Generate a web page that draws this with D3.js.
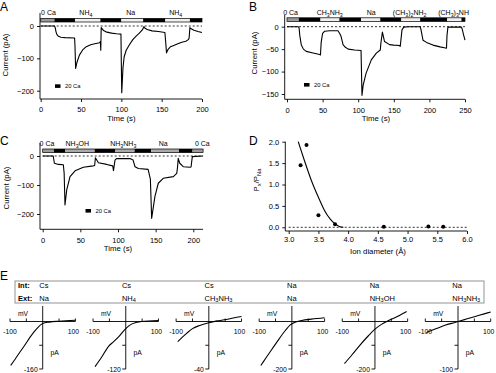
<!DOCTYPE html>
<html lang="en">
<head>
<meta charset="UTF-8">
<title>Permeation of organic cations</title>
<script src="https://d3js.org/d3.v7.min.js"></script>
<style>
  body { margin: 0; background: #fff; }
  svg { font-family: "Liberation Sans", Arial, Helvetica, sans-serif; }
  text { fill: #000; }
  .trace { fill: none; stroke: #000; stroke-width: 1.1; stroke-linejoin: round; }
  .zero { stroke: #000; stroke-width: 0.8; stroke-dasharray: 2,2; }
  .ax { stroke: #000; stroke-width: 0.9; }
</style>
</head>
<body>
<svg id="fig" width="496" height="373"></svg>
<script>
// ---- panel A : NH4 / Na ----
let timeA = [0,17,18,19,20,22,25,30,42,42.5,43.3,45,48,52,56.5,62,67,73,74,74.5,75,76,78,82,88,94,99.5,100,100.5,102,103.5,106,110,114,118,122,126,128,129,132,138,146,154,155,156,158,161,165,170,175,180,183,184,185,186,190,195,200];
let currentA = [0,0,-5,-18,-26,-32,-35,-36,-37,-60,-131,-112,-90,-74,-64,-58,-55,-52,-48,-75,-5,-8,-14,-19,-22,-24,-25,-120,-206,-130,-95,-75,-58,-43,-32,-23,-12,-2,-6,-11,-15,-17,-20,-50,-83,-72,-64,-60,-55,-50,-47,-42,-38,-5,-8,-13,-17,-20];
let barEdgesA = [0,17,42.5,74,100,127,154.5,185,200];
let barKindsA = ["zero","ca","ion","ca","ion","ca","ion","ca"];
let barLabelsA = ["0 Ca","NH4","Na","NH4"];
let barLabelTimesA = [9.7,56,111.6,167.4];

// ---- panel B : methylated ammonium ----
let timeB = [0,16,17,18,20,23,27,35,46,47,48,50,53,60,71.6,74,76,78.7,82,86,95,104,104.6,105.3,107,111,118.4,125.5,131,132,134,137,144,150,158,159,160,161.5,164,170,187,188,191,196,205,215,221,224,224.7,226,245,246,248,250];
let currentB = [0,0,-3,-20,-40,-50,-55,-58,-62,-63,-35,-15,-10,-9,-9,-15,-22,-40,-46,-50,-52,-53,-100,-153,-130,-104,-74,-59,-52,-35,-12,-33,-40,-41,-42,-44,-30,-7,-1,0,0,-5,-30,-35,-41,-45,-47,-48,-20,-1,-1,-5,-18,-30];
let barEdgesB = [0,16.5,47,73.6,104,131,160.6,187,225,245,250];
let barKindsB = ["zero","ca","ion","ca","ion","ca","ion","ca","ion","ca"];
let barLabelsB = ["0 Ca","CH3NH3","Na","(CH3)2NH2","(CH3)3NH"];
let barLabelTimesB = [5,60,118.4,172.3,234];

// ---- panel C : hydroxylamine / hydrazine ----
let timeC = [0,14,15.5,21,27.4,28.5,29.6,31.9,36.3,43,54,67,69,70,74,85,93,94,96,98,116,120,122.6,127,140,143,144.7,149,153.5,160,173.5,178,179,180,182,186.7,195.6,197,198.7,213];
let currentC = [0,0,-25,-29,-30,-60,-169,-117,-71,-51,-39,-34,-33,-6,-23,-29,-34,-51,-14,-9,-9,-14,-37,-43,-46,-80,-215,-140,-94,-77,-71,-60,-40,-8,-25,-37,-39,-38,-2,0];
let barEdgesC = [0,15,29.6,69,96,122,144,181,199,213];
let barKindsC = ["zero","ca","ion","ca","ion","ca","ion","ca","zero"];
let barLabelsC = ["0 Ca","NH3OH","NH3NH3","Na","0 Ca"];
let barLabelTimesC = [5.7,46,107,160,212];

// ---- panel D : relative permeability vs diameter ----
let diameters = [3.2,3.3,3.5,3.78,4.6,5.35,5.6];
let permRatios = [1.45,1.92,0.28,0.07,0.01,0.02,0.01];
let fitDiameters = [3.16,3.25,3.38,3.5,3.6,3.7,3.77,3.85,3.92];
let fitRatios = [2.0,1.62,1.10,0.70,0.40,0.19,0.09,0.02,0.0];

// ---- panel E : I-V relations ----
let ivIntIons = ["Cs","Cs","Cs","Na","Na","Na"];
let ivExtIons = ["Na","NH4","CH3NH3","Na","NH3OH","NH3NH3"];
let ivLowTicks = [-160,-120,-40,-200,-200,-100];
let ivVolts = [
  [-98,-85,-69,-55,-38,-18,0,20,50,100],
  [-94,-73,-52,-37,-22,0,19,48,100],
  [-95,-68,-50,-28,0,25,53,75,100],
  [-95,-80,-60,-40,-20,-5,10,30,60,100],
  [-93,-70,-45,-20,0,20,40,70,97],
  [-97,-70,-40,-10,0,20,50,80,100]
];
let ivCurrents = [
  [-148,-128,-102,-80,-52,-24,-7,-2,1,4],
  [-114,-89,-62,-51,-39,-18,-6,0,2.5],
  [-17,-10,-6,-3.3,-1,0.5,1.7,3,4.2],
  [-185,-155,-115,-75,-38,-14,-3,4,10,16],
  [-177,-140,-98,-60,-32,-12,3,22,42],
  [-23,-16,-8,-2,0,4,10,16,20]
];

const svg = d3.select("#fig");

// digits following a letter or ")" become subscripts
function chem(t, str) {
  let runs = [];
  for (let i = 0; i < str.length; i++) {
    let c = str[i];
    let sub = /\d/.test(c) && i > 0 && /[A-Za-z)]/.test(str[i - 1]);
    if (runs.length && runs[runs.length - 1].sub === sub) runs[runs.length - 1].t += c;
    else runs.push({t: c, sub: sub});
  }
  let down = false;
  runs.forEach(r => {
    let ts = t.append("tspan").text(r.t);
    if (r.sub) { ts.attr("dy", 1.8).attr("font-size", "0.75em"); down = true; }
    else if (down) { ts.attr("dy", -1.8); down = false; }
  });
  return t;
}

function line(g, x1, y1, x2, y2, cls) {
  return g.append("line").attr("x1", x1).attr("y1", y1).attr("x2", x2).attr("y2", y2).attr("class", cls || "ax");
}

function styleAxis(a) {
  a.attr("font-size", 7.5).attr("font-family", null);
  a.select(".domain").remove();
  a.selectAll(".tick line").attr("stroke-width", 0.9);
}

function letter(ch, x, y) {
  svg.append("text").attr("x", x).attr("y", y).attr("font-size", 12).text(ch);
}

function tracePanel(p) {
  const g = svg.append("g");
  const x = d3.scaleLinear().domain([0, p.tMax]).range([p.left, p.right]);
  const y = d3.scaleLinear().domain([0, p.iLow]).range([p.zeroY, p.lowY]);

  g.append("g").attr("transform", `translate(0,${p.axisY})`)
    .call(d3.axisBottom(x).tickValues(p.xTicks).tickSize(3).tickSizeOuter(0).tickPadding(p.xPad))
    .call(styleAxis);
  g.append("g").attr("transform", `translate(${p.axisX},0)`)
    .call(d3.axisLeft(y).tickValues(p.yTicks).tickSize(3).tickSizeOuter(0).tickPadding(3))
    .call(styleAxis);
  line(g, p.axisX, p.axisY, x(p.tAxisEnd), p.axisY);
  line(g, p.axisX, p.axisTop, p.axisX, p.axisY);

  g.append("text").attr("x", (x(0) + x(p.tMax)) / 2).attr("y", p.axisY + 22)
    .attr("text-anchor", "middle").attr("font-size", 7.8).text("Time (s)");
  g.append("text").attr("transform", `translate(${p.yLabelX},${p.yLabelY}) rotate(-90)`)
    .attr("text-anchor", "middle").attr("font-size", 7.8).text("Current (pA)");

  line(g, x(0), y(0), x(p.tAxisEnd), y(0), "zero");

  // solution bar
  const fills = {zero: "#9a9a9a", ca: "#000", ion: p.ionFill};
  p.edges.slice(0, -1).forEach((t0, i) => {
    g.append("rect").attr("x", x(t0)).attr("y", p.barY)
      .attr("width", x(p.edges[i + 1]) - x(t0)).attr("height", 3.6)
      .attr("fill", fills[p.kinds[i]]);
  });
  g.append("rect").attr("x", x(p.edges[0])).attr("y", p.barY)
    .attr("width", x(p.edges[p.edges.length - 1]) - x(p.edges[0])).attr("height", 3.6)
    .attr("fill", "none").attr("stroke", "#000").attr("stroke-width", 0.7);
  p.labels.forEach((lab, i) => {
    chem(g.append("text").attr("x", x(p.labelTimes[i])).attr("y", p.barY - 3)
      .attr("text-anchor", "middle").attr("font-size", 7), lab);
  });

  // 20 Ca key
  g.append("rect").attr("x", p.keyX).attr("y", p.keyY).attr("width", 5.5).attr("height", 3.6).attr("fill", "#000");
  g.append("text").attr("x", p.keyX + 10).attr("y", p.keyY + 3.6).attr("font-size", 5.8).text("20 Ca");

  g.append("path").datum(d3.zip(p.t, p.i)).attr("class", "trace")
    .attr("d", d3.line().x(d => x(d[0])).y(d => y(d[1])));
}

tracePanel({t: timeA, i: currentA, edges: barEdgesA, kinds: barKindsA, labels: barLabelsA, labelTimes: barLabelTimesA,
  tMax: 200, tAxisEnd: 200, left: 40.7, right: 202, iLow: -200, zeroY: 26, lowY: 90.7,
  axisX: 40, axisY: 99, axisTop: 13, xTicks: [0,50,100,150,200], yTicks: [0,-100,-200], xPad: 5,
  yLabelX: 7.5, yLabelY: 55, barY: 18.4, ionFill: "#f0f0f0", keyX: 55, keyY: 84.3});
letter("A", 0, 11);

tracePanel({t: timeB, i: currentB, edges: barEdgesB, kinds: barKindsB, labels: barLabelsB, labelTimes: barLabelTimesB,
  tMax: 250, tAxisEnd: 250, left: 287, right: 465, iLow: -150, zeroY: 26.7, lowY: 94,
  axisX: 284.7, axisY: 99.3, axisTop: 15, xTicks: [0,50,100,150,200,250], yTicks: [0,-50,-100,-150], xPad: 5,
  yLabelX: 257, yLabelY: 53, barY: 17.8, ionFill: "#f0f0f0", keyX: 304, keyY: 83});
letter("B", 249, 11);

tracePanel({t: timeC, i: currentC, edges: barEdgesC, kinds: barKindsC, labels: barLabelsC, labelTimes: barLabelTimesC,
  tMax: 200, tAxisEnd: 213, left: 42.7, right: 193.3, iLow: -200, zeroY: 156, lowY: 214,
  axisX: 40, axisY: 229.3, axisTop: 143, xTicks: [0,50,100,150,200], yTicks: [0,-100,-200], xPad: 5.5,
  yLabelX: 8.5, yLabelY: 188, barY: 149, ionFill: "#aaaaaa", keyX: 85.5, keyY: 209});
letter("C", 0, 145);

// ---- D ----
(function () {
  const g = svg.append("g");
  const x = d3.scaleLinear().domain([3, 6]).range([288.7, 467]);
  const y = d3.scaleLinear().domain([0, 2]).range([227.3, 141.7]);
  const axY = 231, axX = 285.3;
  g.append("g").attr("transform", `translate(0,${axY})`)
    .call(d3.axisBottom(x).tickValues(d3.range(3, 6.01, 0.5)).tickFormat(d3.format(".1f")).tickSize(3).tickSizeOuter(0).tickPadding(2.5))
    .call(styleAxis);
  g.append("g").attr("transform", `translate(${axX},0)`)
    .call(d3.axisLeft(y).tickValues(d3.range(0, 2.01, 0.5)).tickFormat(d3.format(".1f")).tickSize(3).tickSizeOuter(0).tickPadding(3))
    .call(styleAxis);
  line(g, axX, axY, x(6), axY);
  line(g, axX, y(2), axX, axY);
  line(g, x(3), y(0), x(6), y(0), "zero");
  g.append("text").attr("x", 378).attr("y", 253.5).attr("text-anchor", "middle").attr("font-size", 7.8)
    .text("Ion diameter (Å)");
  const yl = g.append("text").attr("transform", "translate(259,180) rotate(-90)")
    .attr("text-anchor", "middle").attr("font-size", 7.8);
  yl.append("tspan").text("P");
  yl.append("tspan").attr("dy", 1.8).attr("font-size", "0.75em").text("x");
  yl.append("tspan").attr("dy", -1.8).text("/P");
  yl.append("tspan").attr("dy", 1.8).attr("font-size", "0.75em").text("Na");
  g.append("path").datum(d3.zip(fitDiameters, fitRatios)).attr("class", "trace")
    .attr("d", d3.line().curve(d3.curveMonotoneX).x(d => x(d[0])).y(d => y(d[1])));
  g.selectAll("circle").data(d3.zip(diameters, permRatios)).join("circle")
    .attr("cx", d => x(d[0])).attr("cy", d => y(d[1])).attr("r", 2).attr("fill", "#000");
})();
letter("D", 249, 145);

// ---- E ----
letter("E", 0, 280);
svg.append("rect").attr("x", 15).attr("y", 281).attr("width", 469).attr("height", 22)
  .attr("fill", "none").attr("stroke", "#888").attr("stroke-width", 0.9);
svg.append("text").attr("x", 18).attr("y", 288).attr("font-size", 7.5).attr("font-weight", "bold").text("Int:");
svg.append("text").attr("x", 18).attr("y", 300.5).attr("font-size", 7.5).attr("font-weight", "bold").text("Ext:");

const ivStep = 83.06;
ivIntIons.forEach((ion, k) => {
  const cx = 42.7 + k * ivStep;
  const colX = 39.3 + k * 82.6;
  svg.append("text").attr("x", colX).attr("y", 288).attr("font-size", 7.5).text(ion);
  chem(svg.append("text").attr("x", colX).attr("y", 300.5).attr("font-size", 7.5), ivExtIons[k]);

  const g = svg.append("g");
  const x = d3.scaleLinear().domain([-100, 100]).range([cx - 32.7, cx + 32.7]);
  const y = d3.scaleLinear().domain([0, ivLowTicks[k]]).range([321.5, 369]);
  line(g, x(-100), y(0), x(100), y(0));
  line(g, x(0), 306, x(0), y(ivLowTicks[k]));
  [-100, -50, 50, 100].forEach(v => line(g, x(v), y(0), x(v), y(0) - 3));
  [ivLowTicks[k], ivLowTicks[k] / 2].forEach(v => line(g, x(0), y(v), x(0) - 3.5, y(v)));

  g.append("text").attr("x", x(-100) + 13).attr("y", 316).attr("text-anchor", "middle").attr("font-size", 6.8).text("mV");
  g.append("text").attr("x", x(-100)).attr("y", 334).attr("text-anchor", "middle").attr("font-size", 6.8).text("-100");
  g.append("text").attr("x", x(100) - 2).attr("y", 334).attr("text-anchor", "middle").attr("font-size", 6.8).text("100");
  g.append("text").attr("x", x(0) + 12).attr("y", 354.5).attr("text-anchor", "middle").attr("font-size", 6.8).text("pA");
  g.append("text").attr("x", x(0) - 5).attr("y", 371.5).attr("text-anchor", "end").attr("font-size", 6.8).text(ivLowTicks[k]);

  g.append("path").datum(d3.zip(ivVolts[k], ivCurrents[k])).attr("class", "trace")
    .attr("d", d3.line().curve(d3.curveMonotoneX).x(d => x(d[0])).y(d => y(d[1])));
});
</script>
</body>
</html>
